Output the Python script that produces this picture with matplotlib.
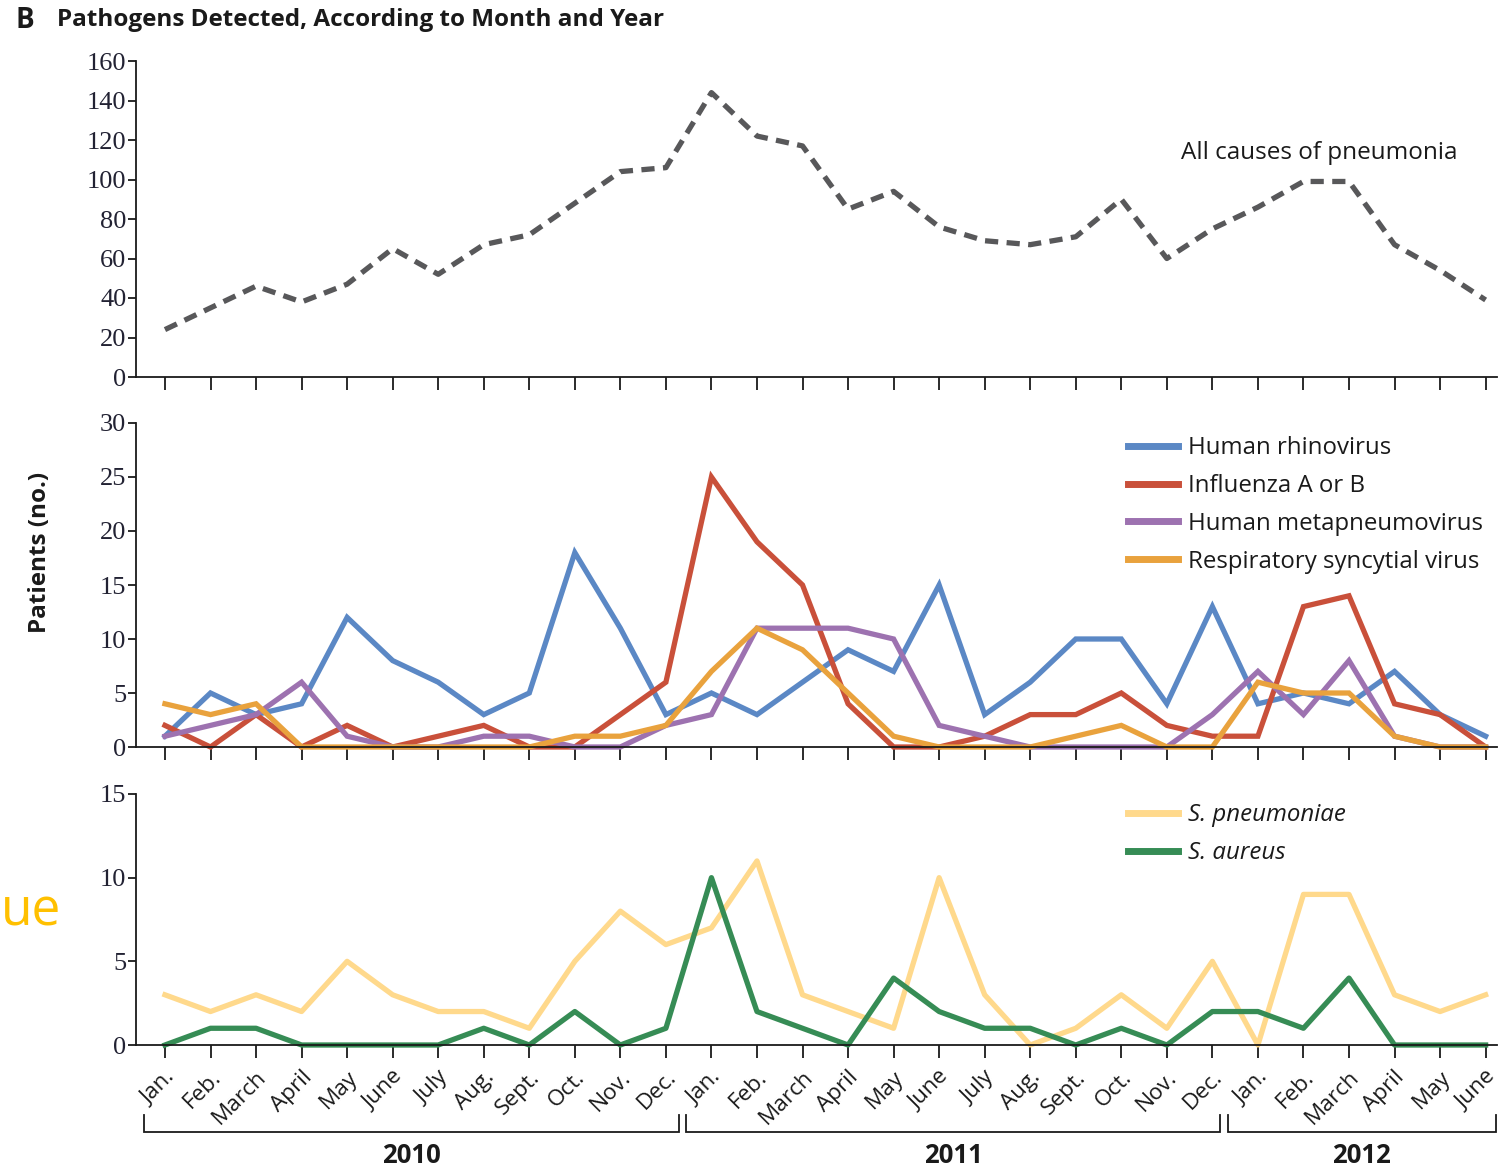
import matplotlib
matplotlib.use("Agg")
import matplotlib.pyplot as plt
import matplotlib.transforms as mtransforms
from matplotlib import font_manager as fm

# ---- data -------------------------------------------------------------
month_labels = ["Jan.", "Feb.", "March", "April", "May", "June", "July", "Aug.",
                "Sept.", "Oct.", "Nov.", "Dec."] * 2 + \
               ["Jan.", "Feb.", "March", "April", "May", "June"]
year_labels = ["2010", "2011", "2012"]

all_pneumonia = [24, 35, 46, 38, 47, 65, 52, 67, 72, 88, 104, 106,
                 144, 122, 117, 85, 94, 76, 69, 67, 71, 90, 60, 75,
                 86, 99, 99, 67, 54, 39]

rhinovirus = [1, 5, 3, 4, 12, 8, 6, 3, 5, 18, 11, 3,
              5, 3, 6, 9, 7, 15, 3, 6, 10, 10, 4, 13,
              4, 5, 4, 7, 3, 1]
influenza = [2, 0, 3, 0, 2, 0, 1, 2, 0, 0, 3, 6,
             25, 19, 15, 4, 0, 0, 1, 3, 3, 5, 2, 1,
             1, 13, 14, 4, 3, 0]
metapneumovirus = [1, 2, 3, 6, 1, 0, 0, 1, 1, 0, 0, 2,
                   3, 11, 11, 11, 10, 2, 1, 0, 0, 0, 0, 3,
                   7, 3, 8, 1, 0, 0]
rsv = [4, 3, 4, 0, 0, 0, 0, 0, 0, 1, 1, 2,
       7, 11, 9, 5, 1, 0, 0, 0, 1, 2, 0, 0,
       6, 5, 5, 1, 0, 0]

s_pneumoniae = [3, 2, 3, 2, 5, 3, 2, 2, 1, 5, 8, 6,
                7, 11, 3, 2, 1, 10, 3, 0, 1, 3, 1, 5,
                0, 9, 9, 3, 2, 3]
s_aureus = [0, 1, 1, 0, 0, 0, 0, 1, 0, 2, 0, 1,
            10, 2, 1, 0, 4, 2, 1, 1, 0, 1, 0, 2,
            2, 1, 4, 0, 0, 0]

# ---- style ------------------------------------------------------------
names = {f.name for f in fm.fontManager.ttflist}
label_font = "Open Sans" if "Open Sans" in names else "DejaVu Sans"
num_font = "Liberation Serif" if "Liberation Serif" in names else "DejaVu Serif"
head_font = "Open Sans" if "Open Sans" in names else "DejaVu Sans"

ink = "#1a1a1a"
c_all = "#58585a"
c_rhino = "#5b88c5"
c_flu = "#c9503a"
c_meta = "#9d72b0"
c_rsv = "#e9a23d"
c_spn = "#ffd98c"
c_sau = "#368c55"
lw = 3.8

W, H = 1499, 1167
fig = plt.figure(figsize=(W / 100, H / 100), dpi=100)

x = list(range(len(month_labels)))
xlim = (-0.636, 29.25)
left = 136 / W
width = 1497 / W - left


def make_axes(y_top_px, y_bot_px, ymax, step):
    ax = fig.add_axes([left, 1 - y_bot_px / H, width, (y_bot_px - y_top_px) / H])
    ax.set_xlim(*xlim)
    ax.set_ylim(0, ymax)
    ax.set_yticks(range(0, ymax + 1, step))
    ax.set_xticks(x)
    for s in ("top", "right"):
        ax.spines[s].set_visible(False)
    for s in ("left", "bottom"):
        ax.spines[s].set_color(ink)
        ax.spines[s].set_linewidth(1.3)
    ax.tick_params(axis="y", direction="out", length=6, width=1.3, color=ink,
                   pad=1, labelsize=19, labelcolor="#222233")
    ax.tick_params(axis="x", direction="out", length=9.5, width=1.3, color=ink)
    for t in ax.get_yticklabels():
        t.set_fontfamily(num_font)
    ax.patch.set_alpha(0)
    return ax


ax1 = make_axes(61, 377, 160, 20)
ax2 = make_axes(423, 747, 30, 5)
ax3 = make_axes(794, 1045, 15, 5)
for ax in (ax1, ax2):
    ax.set_xticklabels([])

# top: all causes of pneumonia
ax1.plot(x, all_pneumonia, color=c_all, lw=lw, dashes=(2.5, 1.6),
         solid_joinstyle="round", clip_on=False)
fig.text(1181 / W, 1 - 153 / H, "All causes of pneumonia",
         fontsize=17.5, family=label_font, color=ink, va="center")

# middle: viruses
series = [(rhinovirus, c_rhino, "Human rhinovirus"),
          (influenza, c_flu, "Influenza A or B"),
          (metapneumovirus, c_meta, "Human metapneumovirus"),
          (rsv, c_rsv, "Respiratory syncytial virus")]
for vals, col, name in series:
    ax2.plot(x, vals, color=col, lw=lw, label=name, clip_on=False,
             solid_joinstyle="miter")

leg_kw = dict(loc="upper left", frameon=False, borderpad=0, borderaxespad=0,
              handlelength=2.1, handletextpad=0.4, labelspacing=0.58,
              prop={"family": label_font, "size": 17.3})
leg2 = ax2.legend(bbox_to_anchor=(1128 / W, 1 - 436 / H),
                  bbox_transform=fig.transFigure, **leg_kw)
for line in leg2.get_lines():
    line.set_linewidth(5)
for t in leg2.get_texts():
    t.set_color(ink)

# bottom: bacteria
ax3.plot(x, s_pneumoniae, color=c_spn, lw=lw, label="S. pneumoniae", clip_on=False)
ax3.plot(x, s_aureus, color=c_sau, lw=lw, label="S. aureus", clip_on=False)
leg3 = ax3.legend(bbox_to_anchor=(1128 / W, 1 - 803 / H),
                  bbox_transform=fig.transFigure, **leg_kw)
for line in leg3.get_lines():
    line.set_linewidth(5)
for t in leg3.get_texts():
    t.set_color(ink)
    t.set_style("italic")

# month labels
ax3.set_xticklabels(month_labels, rotation=45, ha="right", va="center",
                    rotation_mode="anchor", family=label_font, fontsize=16.2,
                    color=ink)
shift = mtransforms.ScaledTranslation(7 / 100, -11 / 100, fig.dpi_scale_trans)
for t in ax3.get_xticklabels():
    t.set_transform(t.get_transform() + shift)

# year brackets
bt = mtransforms.blended_transform_factory(ax3.transData, ax3.transAxes)
spans = [(-0.46, 11.28), (11.45, 23.17), (23.34, 29.22)]
y_line, y_end = -0.347, -0.279
for (a, b), yr in zip(spans, year_labels):
    ax3.plot([a, a, b, b], [y_end, y_line, y_line, y_end], color=ink, lw=1.3,
             transform=bt, clip_on=False, solid_joinstyle="miter")
    ax3.text((a + b) / 2, -0.44, yr, transform=bt, ha="center", va="center",
             fontsize=18.5, fontweight="bold", family=head_font, color=ink)

# titles and axis label
fig.text(15 / W, 1 - 20 / H, "B", fontsize=20, fontweight="bold",
         family=head_font, color=ink, va="center")
fig.text(57 / W, 1 - 20 / H, "Pathogens Detected, According to Month and Year",
         fontsize=17.5, fontweight="bold", family=head_font, color=ink,
         va="center")
fig.text(40 / W, 1 - 552 / H, "Patients (no.)", rotation=90, fontsize=17.5,
         fontweight="bold", family=head_font, color=ink, ha="center",
         va="center")
fig.text(1 / W, 1 - 912 / H, "ue", fontsize=37, family=label_font,
         color="#ffc000", ha="left", va="center")

fig.savefig("out.png", dpi=100)
